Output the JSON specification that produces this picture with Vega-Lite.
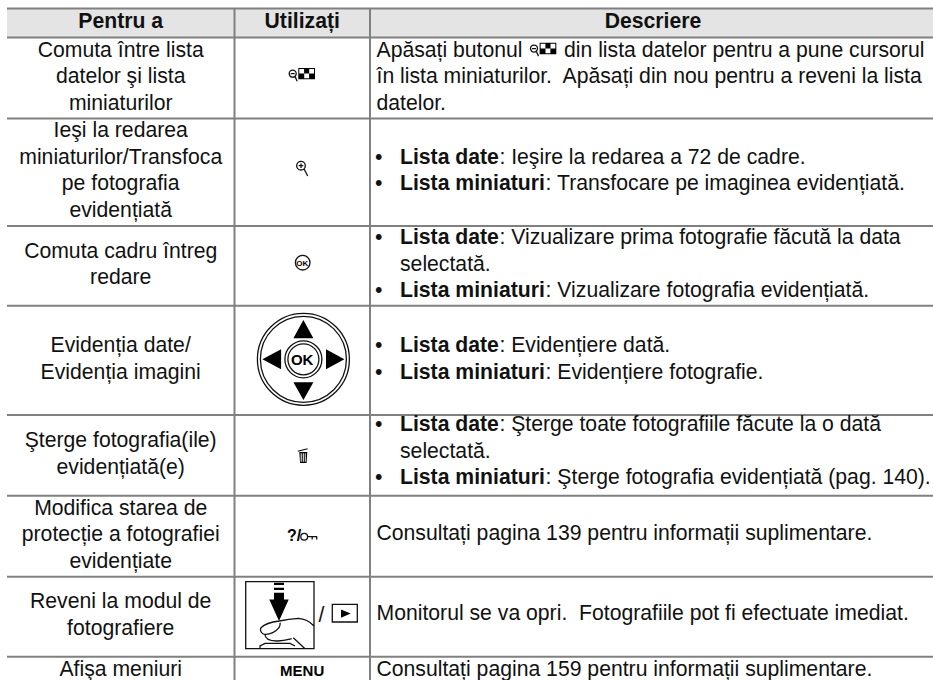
{"$schema":"https://vega.github.io/schema/vega-lite/v6.json","width":933,"height":680,"padding":0,"autosize":"none","background":"white","config":{"view":{"stroke":null},"axis":{"disable":true}},
"datasets":{"cells":[
{"row":0,"lines":1,"line":0,"slot":"action","kind":"header","text":"Pentru a"},
{"row":0,"lines":1,"line":0,"slot":"control","kind":"header","text":"Utilizați"},
{"row":0,"lines":1,"line":0,"slot":"descHead","kind":"header","text":"Descriere"},
{"row":1,"lines":3,"line":0,"slot":"action","kind":"label","text":"Comuta între lista"},
{"row":1,"lines":3,"line":1,"slot":"action","kind":"label","text":"datelor şi lista"},
{"row":1,"lines":3,"line":2,"slot":"action","kind":"label","text":"miniaturilor"},
{"row":2,"lines":4,"line":0,"slot":"action","kind":"label","text":"Ieşi la redarea"},
{"row":2,"lines":4,"line":1,"slot":"action","kind":"label","text":"miniaturilor/Transfoca"},
{"row":2,"lines":4,"line":2,"slot":"action","kind":"label","text":"pe fotografia"},
{"row":2,"lines":4,"line":3,"slot":"action","kind":"label","text":"evidențiată"},
{"row":3,"lines":2,"line":0,"slot":"action","kind":"label","text":"Comuta cadru întreg"},
{"row":3,"lines":2,"line":1,"slot":"action","kind":"label","text":"redare"},
{"row":4,"lines":2,"line":0,"slot":"action","kind":"label","text":"Evidenția date/"},
{"row":4,"lines":2,"line":1,"slot":"action","kind":"label","text":"Evidenția imagini"},
{"row":5,"lines":2,"line":0,"slot":"action","kind":"label","text":"Şterge fotografia(ile)"},
{"row":5,"lines":2,"line":1,"slot":"action","kind":"label","text":"evidențiată(e)"},
{"row":6,"lines":3,"line":0,"slot":"action","kind":"label","text":"Modifica starea de"},
{"row":6,"lines":3,"line":1,"slot":"action","kind":"label","text":"protecție a fotografiei"},
{"row":6,"lines":3,"line":2,"slot":"action","kind":"label","text":"evidențiate"},
{"row":7,"lines":2,"line":0,"slot":"action","kind":"label","text":"Reveni la modul de"},
{"row":7,"lines":2,"line":1,"slot":"action","kind":"label","text":"fotografiere"},
{"row":8,"lines":1,"line":0,"slot":"action","kind":"label","text":"Afişa meniuri"},
{"row":1,"lines":3,"line":0,"slot":"desc","kind":"desc","text":"Apăsați butonul"},
{"row":1,"lines":3,"line":0,"slot":"afterIcon","kind":"desc","text":"din lista datelor pentru a pune cursorul"},
{"row":1,"lines":3,"line":1,"slot":"desc","kind":"desc","text":"în lista miniaturilor.\u00a0 Apăsați din nou pentru a reveni la lista"},
{"row":1,"lines":3,"line":2,"slot":"desc","kind":"desc","text":"datelor."},
{"row":2,"lines":2,"line":0,"slot":"bullet","kind":"desc","text":"•"},
{"row":2,"lines":2,"line":0,"slot":"term","kind":"term","text":"Lista date"},
{"row":2,"lines":2,"line":0,"slot":"afterDate","kind":"desc","text":": Ieşire la redarea a 72 de cadre."},
{"row":2,"lines":2,"line":1,"slot":"bullet","kind":"desc","text":"•"},
{"row":2,"lines":2,"line":1,"slot":"term","kind":"term","text":"Lista miniaturi"},
{"row":2,"lines":2,"line":1,"slot":"afterThumb","kind":"desc","text":": Transfocare pe imaginea evidențiată."},
{"row":3,"lines":3,"line":0,"slot":"bullet","kind":"desc","text":"•"},
{"row":3,"lines":3,"line":0,"slot":"term","kind":"term","text":"Lista date"},
{"row":3,"lines":3,"line":0,"slot":"afterDate","kind":"desc","text":": Vizualizare prima fotografie făcută la data"},
{"row":3,"lines":3,"line":1,"slot":"term","kind":"desc","text":"selectată."},
{"row":3,"lines":3,"line":2,"slot":"bullet","kind":"desc","text":"•"},
{"row":3,"lines":3,"line":2,"slot":"term","kind":"term","text":"Lista miniaturi"},
{"row":3,"lines":3,"line":2,"slot":"afterThumb","kind":"desc","text":": Vizualizare fotografia evidențiată."},
{"row":4,"lines":2,"line":0,"slot":"bullet","kind":"desc","text":"•"},
{"row":4,"lines":2,"line":0,"slot":"term","kind":"term","text":"Lista date"},
{"row":4,"lines":2,"line":0,"slot":"afterDate","kind":"desc","text":": Evidențiere dată."},
{"row":4,"lines":2,"line":1,"slot":"bullet","kind":"desc","text":"•"},
{"row":4,"lines":2,"line":1,"slot":"term","kind":"term","text":"Lista miniaturi"},
{"row":4,"lines":2,"line":1,"slot":"afterThumb","kind":"desc","text":": Evidențiere fotografie."},
{"row":5,"lines":3,"line":-0.1,"slot":"bullet","kind":"desc","text":"•"},
{"row":5,"lines":3,"line":-0.1,"slot":"term","kind":"term","text":"Lista date"},
{"row":5,"lines":3,"line":-0.1,"slot":"afterDate","kind":"desc","text":": Şterge toate fotografiile făcute la o dată"},
{"row":5,"lines":3,"line":0.9,"slot":"term","kind":"desc","text":"selectată."},
{"row":5,"lines":3,"line":1.9,"slot":"bullet","kind":"desc","text":"•"},
{"row":5,"lines":3,"line":1.9,"slot":"term","kind":"term","text":"Lista miniaturi"},
{"row":5,"lines":3,"line":1.9,"slot":"afterThumb","kind":"desc","text":": Şterge fotografia evidențiată (pag. 140)."},
{"row":6,"lines":1,"line":-0.04,"slot":"desc","kind":"desc","text":"Consultați pagina 139 pentru informații suplimentare."},
{"row":7,"lines":1,"line":-0.06,"slot":"desc","kind":"desc","text":"Monitorul se va opri.\u00a0 Fotografiile pot fi efectuate imediat."},
{"row":8,"lines":1,"line":0,"slot":"desc","kind":"desc","text":"Consultați pagina 159 pentru informații suplimentare."},
{"row":4,"lines":1,"line":0,"slot":"control","kind":"okLarge","text":"OK"},
{"row":3,"lines":1,"line":-0.2,"slot":"control","kind":"okSmall","text":"OK"},
{"row":6,"lines":1,"line":0,"slot":"query","kind":"narrow","text":"?/"},
{"row":8,"lines":1,"line":0,"slot":"control","kind":"menu","text":"MENU"},
{"row":7,"lines":1,"line":0,"slot":"slash","kind":"label","text":"/"},
{"row":1,"lines":1,"line":0,"slot":"control","kind":"iconFill","icon":"thumbGrid"},
{"row":1,"lines":3,"line":0.05,"slot":"inlineIcon","kind":"iconFill","icon":"thumbGrid"},
{"row":1,"lines":1,"line":0,"slot":"control","kind":"iconLine","icon":"thumbLens"},
{"row":1,"lines":3,"line":0.05,"slot":"inlineIcon","kind":"iconLine","icon":"thumbLens"},
{"row":2,"lines":1,"line":0,"slot":"control","kind":"iconLine","icon":"zoomLens"},
{"row":3,"lines":1,"line":0,"slot":"control","kind":"iconLine","icon":"okRing"},
{"row":4,"lines":1,"line":0,"slot":"control","kind":"iconLine","icon":"dpadRings"},
{"row":4,"lines":1,"line":0,"slot":"control","kind":"iconFill","icon":"dpadArrows"},
{"row":5,"lines":1,"line":0,"slot":"control","kind":"iconFill","icon":"trash"},
{"row":6,"lines":1,"line":0,"slot":"control","kind":"iconLine","icon":"key"},
{"row":7,"lines":1,"line":0,"slot":"shutter","kind":"iconLine","icon":"shutterLines"},
{"row":7,"lines":1,"line":0,"slot":"shutter","kind":"iconFill","icon":"shutterFill"}
],"borders":[{"border":"top"},{"border":"head"},{"border":"r1"},{"border":"r2"},{"border":"r3"},{"border":"r4"},{"border":"r5"},{"border":"r6"},{"border":"r7"}],"dividers":[{"divider":"actionControl"},{"divider":"controlDescription"}],"banner":[{"name":"header"}]},
"data":{"name":"cells"},
"transform":[
{"calculate":"{action:120.7,control:302.2,descHead:653,desc:376.5,bullet:375,term:400,afterDate:499.4,afterThumb:545.6,afterIcon:564,inlineIcon:543.5,query:294,slash:321.5,shutter:280}[datum.slot]","as":"px"},
{"calculate":"[23,78,172,265.8,360.3,455.3,536.2,616.7,670.5][datum.row]+26.5*(datum.line-(datum.lines-1)/2)+(datum.icon?0:5)","as":"py"}
],
"resolve":{"scale":{"shape":"independent"}},
"layer":[
{"data":{"name":"banner"},"transform":[],"mark":{"type":"rect","color":"#e4e4e4"},"encoding":{"x":{"datum":7,"type":"quantitative","scale":{"domain":[0,933],"range":[0,933],"nice":false}},"x2":{"datum":933},"y":{"datum":8.5,"type":"quantitative","scale":{"domain":[0,680],"range":[0,680],"nice":false}},"y2":{"datum":37.5}}},
{"data":{"name":"borders"},"transform":[{"calculate":"{top:8.5,head:37.5,r1:118.5,r2:226,r3:305.7,r4:415,r5:495.7,r6:576.7,r7:656.7}[datum.border]","as":"py"}],"mark":{"type":"rule","color":"#808080","strokeWidth":2},"encoding":{"x":{"datum":7,"type":"quantitative"},"x2":{"datum":933},"y":{"field":"py","type":"quantitative"}}},
{"data":{"name":"dividers"},"transform":[{"calculate":"{actionControl:234.5,controlDescription:370}[datum.divider]","as":"px"}],"mark":{"type":"rule","color":"#808080","strokeWidth":2},"encoding":{"x":{"field":"px","type":"quantitative"},"y":{"datum":8,"type":"quantitative"},"y2":{"datum":680}}},
{"transform":[{"filter":"datum.kind=='label'"}],"mark":{"type":"text","align":"center","baseline":"alphabetic","font":"Liberation Sans","fontSize":21.2,"color":"#111111"},"encoding":{"x":{"field":"px","type":"quantitative"},"y":{"field":"py","type":"quantitative"},"text":{"field":"text"}}},
{"transform":[{"filter":"datum.kind=='header'"}],"mark":{"type":"text","align":"center","baseline":"alphabetic","font":"Liberation Sans","fontWeight":"bold","fontSize":21.2,"color":"#111111"},"encoding":{"x":{"field":"px","type":"quantitative"},"y":{"field":"py","type":"quantitative"},"text":{"field":"text"}}},
{"transform":[{"filter":"datum.kind=='desc'"}],"mark":{"type":"text","align":"left","baseline":"alphabetic","font":"Liberation Sans","fontSize":21.2,"color":"#111111"},"encoding":{"x":{"field":"px","type":"quantitative"},"y":{"field":"py","type":"quantitative"},"text":{"field":"text"}}},
{"transform":[{"filter":"datum.kind=='term'"}],"mark":{"type":"text","align":"left","baseline":"alphabetic","font":"Liberation Sans","fontWeight":"bold","fontSize":21.2,"color":"#111111"},"encoding":{"x":{"field":"px","type":"quantitative"},"y":{"field":"py","type":"quantitative"},"text":{"field":"text"}}},
{"transform":[{"filter":"datum.kind=='okLarge'"}],"mark":{"type":"text","align":"center","baseline":"alphabetic","font":"Liberation Sans","fontWeight":"bold","fontSize":15,"color":"#000000"},"encoding":{"x":{"field":"px","type":"quantitative"},"y":{"field":"py","type":"quantitative"},"text":{"field":"text"}}},
{"transform":[{"filter":"datum.kind=='okSmall'"}],"mark":{"type":"text","align":"center","baseline":"alphabetic","font":"Liberation Sans","fontWeight":"bold","fontSize":8,"color":"#000000"},"encoding":{"x":{"field":"px","type":"quantitative"},"y":{"field":"py","type":"quantitative"},"text":{"field":"text"}}},
{"transform":[{"filter":"datum.kind=='narrow'"}],"mark":{"type":"text","align":"center","baseline":"alphabetic","font":"Liberation Sans","fontWeight":"bold","fontSize":16,"color":"#000000"},"encoding":{"x":{"field":"px","type":"quantitative"},"y":{"field":"py","type":"quantitative"},"text":{"field":"text"}}},
{"transform":[{"filter":"datum.kind=='menu'"}],"mark":{"type":"text","align":"center","baseline":"alphabetic","font":"Liberation Sans","fontWeight":"bold","fontSize":15,"color":"#000000"},"encoding":{"x":{"field":"px","type":"quantitative"},"y":{"field":"py","type":"quantitative"},"text":{"field":"text"}}},
{"transform":[{"filter":"datum.kind=='iconFill'"}],"mark":{"type":"point","filled":true,"opacity":1,"size":4,"color":"#000000","strokeWidth":0},"encoding":{"x":{"field":"px","type":"quantitative"},"y":{"field":"py","type":"quantitative"},"shape":{"field":"icon","type":"nominal","legend":null,"scale":{"domain":["thumbGrid","dpadArrows","trash","shutterFill"],"range":[
"M-3.9 -10H12.8V1.3H-3.9Z M-2.9 -9V-4.4H1.9V-9Z M7 -9V-4.4H11.8V-9Z M2 -4.4V0.3H6.9V-4.4Z",
"M1.2 -40.3L11.2 -22H-8.8Z M1.2 39.7L11.2 22H-8.8Z M-39.8 -1L-21.1 -11V9Z M42.2 -1L23.8 -11V9Z",
"M-2.9 -3.3H5.1L4.3 7.7H-2.1Z M-1.5 -2V6.4H-0.5V-2Z M0.6 -2V6.4H1.6V-2Z M2.6 -2V6.4H3.5V-2Z M-4.5 -4.6L5.3 -7L5.5 -6L-4.3 -3.6Z",
"M-6 -34H4V-31.7H-6Z M-6 -29H4V-26.7H-6Z M-6 -24H4V-17.3H8.7L-1 4.3L-10.7 -17.3H-6Z M61 -7.3L70.7 -3.2L61 1Z"]}}}},
{"transform":[{"filter":"datum.kind=='iconLine'"}],"mark":{"type":"point","filled":false,"opacity":1,"size":4,"color":"#111111","strokeWidth":1.3},"encoding":{"x":{"field":"px","type":"quantitative"},"y":{"field":"py","type":"quantitative"},"shape":{"field":"icon","type":"nominal","legend":null,"scale":{"domain":["thumbLens","zoomLens","okRing","dpadRings","key","shutterLines"],"range":[
"M-6 -4.3A3.5 3.5 0 1 0 -13 -4.3A3.5 3.5 0 1 0 -6 -4.3Z M-11.5 -4.3H-7.5 M-7.2 -1.5L-5 3.3",
"M3.1 -6.3A4.3 4.3 0 1 0 -5.5 -6.3A4.3 4.3 0 1 0 3.1 -6.3Z M-3.5 -6.3H1.1 M-1.2 -8.6V-4 M1.9 -3L5.5 4",
"M7.8 -3.1A7.3 7.3 0 1 0 -6.8 -3.1A7.3 7.3 0 1 0 7.8 -3.1Z",
"M47.2 -1A46 46 0 1 0 -44.8 -1A46 46 0 1 0 47.2 -1Z M44.2 -1A43 43 0 1 0 -41.8 -1A43 43 0 1 0 44.2 -1Z M19.7 -1A18.5 18.5 0 1 0 -17.3 -1A18.5 18.5 0 1 0 19.7 -1Z M16.7 -1A15.5 15.5 0 1 0 -14.3 -1A15.5 15.5 0 1 0 16.7 -1Z",
"M5.4 0.5A3.4 3.4 0 1 0 -1.4 0.5A3.4 3.4 0 1 0 5.4 0.5Z M5.4 0.5H15 M10 0.5V3.2 M14.5 0.5V3.2",
"M-34.3 -35H34V32H-34.3Z M52.3 -12.3H77.3V5.3H52.3Z M-0.7 4.3C5 3 12 2 18.3 1.7C24 2 30 5 34 9.3 M-0.7 4.3C-6 5 -15 7 -19 11C-20.5 14 -18 18 -15 17.7C-10 18 -4 15 -1 11C0 9 0.3 7 0 6 M-15 17.7C-15 22 -10 24 -3.3 24.3C3 24.5 8 23 11.7 22 M13.3 21L25 32 M-20 32V29.3L-15 26.7H10L15 29.3"]}}}}
]}
